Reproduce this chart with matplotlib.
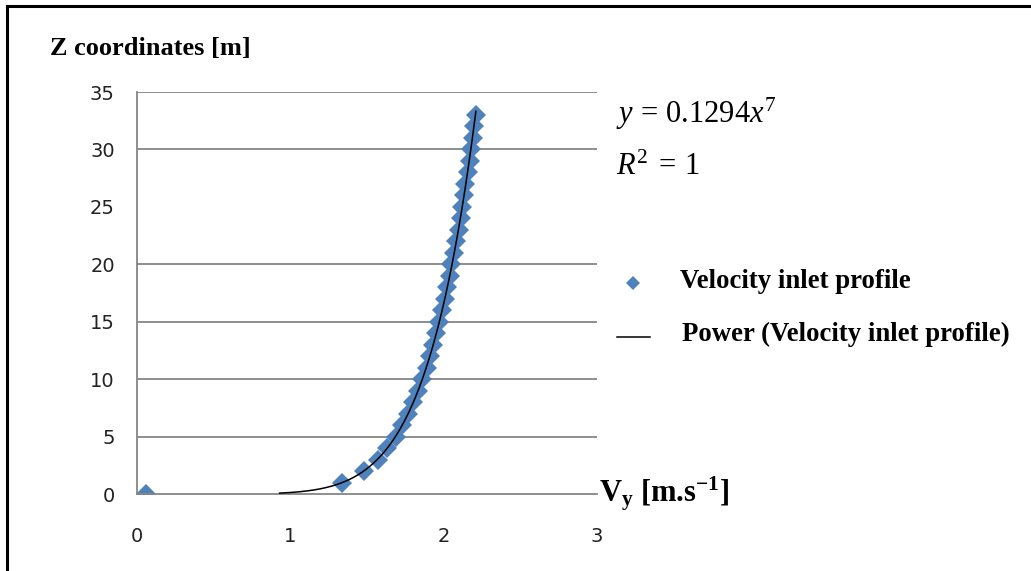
import numpy as np
import matplotlib
matplotlib.use("Agg")
import matplotlib.pyplot as plt
from matplotlib.lines import Line2D

# Data
velocity = [0.06, 1.34, 1.48, 1.57, 1.63, 1.69, 1.73, 1.77, 1.80, 1.83, 1.86,
            1.89, 1.91, 1.93, 1.95, 1.97, 1.99, 2.01, 2.02, 2.04, 2.05, 2.07,
            2.08, 2.10, 2.11, 2.12, 2.13, 2.14, 2.16, 2.17, 2.18, 2.19, 2.20, 2.21]
z_coord = [0, 1, 2, 3, 4, 5, 6, 7, 8, 9, 10, 11, 12, 13, 14, 15, 16, 17, 18,
           19, 20, 21, 22, 23, 24, 25, 26, 27, 28, 29, 30, 31, 32, 33]
fit_coef = 0.1294
fit_exp = 7
fit_xrange = [0.93, 2.21]
x_ticks = [0, 1, 2, 3]
y_ticks = [0, 5, 10, 15, 20, 25, 30, 35]
grid_levels = [5, 10, 15, 20, 30, 35]

serif = "Liberation Serif"
plt.rcParams["mathtext.fontset"] = "custom"
plt.rcParams["mathtext.rm"] = serif
plt.rcParams["mathtext.it"] = serif + ":italic"
plt.rcParams["mathtext.bf"] = serif + ":bold"

W, H = 1031, 571
fig = plt.figure(figsize=(W / 100, H / 100), dpi=100)
ax = fig.add_axes([137 / W, 1 - 494 / H, (597 - 137) / W, (494 - 92) / H])

blue = "#4F81BD"
grey = "#868686"

for g in grid_levels:
    ax.axhline(g, color=grey, lw=1.3, zorder=0)

xs = np.linspace(fit_xrange[0], fit_xrange[1], 300)
ax.plot(xs, fit_coef * xs ** fit_exp, color="black", lw=1.1, zorder=3)
ax.plot(velocity, z_coord, ls="none", marker="D", ms=10.5, color=blue,
        markeredgewidth=0, zorder=2)

ax.set_xlim(0, 3)
ax.set_ylim(0, 35)
ax.set_xticks(x_ticks)
ax.set_yticks(y_ticks)
ax.tick_params(axis="both", length=0, labelsize=14, colors="#222222")
ax.tick_params(axis="x", pad=24)
ax.tick_params(axis="y", pad=16)
for s in ["right", "top"]:
    ax.spines[s].set_visible(False)
ax.spines["left"].set_color(grey)
ax.spines["bottom"].set_color(grey)
ax.spines["left"].set_linewidth(1.3)
ax.spines["bottom"].set_linewidth(1.3)

fig.text(50 / W, 1 - 49 / H, "Z coordinates [m]", fontfamily=serif,
         fontweight="bold", fontsize=19, va="center", ha="left")
fig.text(599 / W, 1 - 494 / H, r"V$_\mathbf{y}$ [m.s$^{\mathbf{-1}}$]",
         fontfamily=serif, fontweight="bold", fontsize=22, va="center", ha="left")

fig.text(616 / W, 1 - 114 / H, r"$y\,=\,0.1294x^{7}$", fontsize=22,
         va="center", ha="left")
fig.text(616 / W, 1 - 166 / H, r"$R^{2}\;=\,1$", fontsize=22,
         va="center", ha="left")

# Legend
fig.add_artist(Line2D([633 / W], [1 - 283 / H], marker="D", ms=7, color=blue,
                      ls="none", markeredgewidth=0, transform=fig.transFigure))
fig.text(680 / W, 1 - 281 / H, "Velocity inlet profile", fontfamily=serif,
         fontweight="bold", fontsize=19.3, va="center", ha="left")
fig.add_artist(Line2D([617 / W, 650 / W], [1 - 337 / H, 1 - 337 / H],
                      color="black", lw=1.1, transform=fig.transFigure))
fig.text(682 / W, 1 - 334 / H, "Power (Velocity inlet profile)", fontfamily=serif,
         fontweight="bold", fontsize=19.3, va="center", ha="left")

# Outer frame (top and left edges)
fig.add_artist(Line2D([7 / W, 1.0], [1 - 6 / H, 1 - 6 / H], color="black",
                      lw=2.2, transform=fig.transFigure))
fig.add_artist(Line2D([7 / W, 7 / W], [0, 1 - 6 / H], color="black",
                      lw=2.2, transform=fig.transFigure))

fig.savefig("out.png", dpi=100)
